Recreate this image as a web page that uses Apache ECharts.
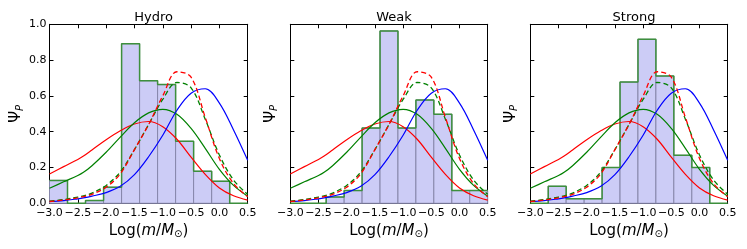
<!DOCTYPE html>
<html>
<head>
<meta charset="utf-8">
<script src="https://cdn.jsdelivr.net/npm/echarts@6/dist/echarts.min.js"></script>
<style>html,body{margin:0;padding:0;background:#fff}#c{width:747px;height:249px}</style>
</head>
<body>
<div id="c"></div>
<script>
// ---------- data ----------
const panelTitles = ['Hydro', 'Weak', 'Strong'];
const binEdges = [-3.0, -2.682, -2.364, -2.045, -1.727, -1.409, -1.091, -0.773, -0.455, -0.136, 0.182, 0.5];
const histHydro  = [0.128, 0.0, 0.015, 0.09, 0.892, 0.685, 0.663, 0.346, 0.179, 0.123, 0.0];
const histWeak   = [0.0, 0.0, 0.035, 0.071, 0.42, 0.963, 0.42, 0.577, 0.497, 0.071, 0.071];
const histStrong = [0.0, 0.095, 0.025, 0.025, 0.2, 0.677, 0.916, 0.711, 0.268, 0.2, 0.0];

const curveX = [-3.0, -2.75, -2.5, -2.4, -2.25, -2.0, -1.75, -1.5, -1.25, -1.0, -0.75, -0.5, -0.25, 0.0, 0.25, 0.5];
const redSolid   = [0.164, 0.205, 0.245, 0.264, 0.298, 0.355, 0.405, 0.443, 0.457, 0.428, 0.358, 0.258, 0.162, 0.086, 0.042, 0.018];
const greenSolid = [0.084, 0.12, 0.155, 0.173, 0.21, 0.285, 0.37, 0.45, 0.505, 0.525, 0.497, 0.418, 0.307, 0.19, 0.1, 0.04];
const blueSolid  = [0.01, 0.015, 0.025, 0.03, 0.04, 0.06, 0.095, 0.16, 0.26, 0.38, 0.52, 0.615, 0.64, 0.56, 0.41, 0.24];
const redDashed  = [0.01, 0.018, 0.03, 0.037, 0.05, 0.09, 0.165, 0.3, 0.44, 0.6, 0.735, 0.705, 0.48, 0.25, 0.11, 0.037];
const greenDashed= [0.012, 0.021, 0.035, 0.042, 0.057, 0.1, 0.175, 0.3, 0.44, 0.58, 0.675, 0.645, 0.47, 0.27, 0.13, 0.05];

// ---------- styling ----------
const FONT = 'DejaVu Sans';
const grids = [
  {left: 49.5, top: 24.3, width: 198.2, height: 179},
  {left: 290.3, top: 24.3, width: 197.4, height: 179},
  {left: 530.3, top: 24.3, width: 197.4, height: 179}
];
const hists = [histHydro, histWeak, histStrong];
const fillColor = '#ccccf6';
const edgeColor = '#8686aa';
const stepColor = '#3d8f3d';

const fmtMinus = v => (Math.abs(v) < 1e-9 ? '0.0' : v.toFixed(1)).replace('-', '\u2212');

const option = {
  animation: false,
  backgroundColor: '#ffffff',
  title: [], grid: [], xAxis: [], yAxis: [], series: []
};

grids.forEach((g, i) => {
  option.grid.push({left: g.left, top: g.top, width: g.width, height: g.height, containLabel: false});
  option.title.push({
    text: panelTitles[i], left: g.left + g.width / 2, top: 6, textAlign: 'center',
    textStyle: {fontFamily: FONT, fontSize: 13, fontWeight: 'normal', color: '#000'}
  });
  const axLine = {show: true, onZero: false, lineStyle: {color: '#000', width: 1}};
  const tick = {show: true, inside: true, length: 4, lineStyle: {color: '#000', width: 1}};
  option.xAxis.push({
    gridIndex: i, type: 'value', min: -3, max: 0.5, interval: 0.5, position: 'bottom',
    axisLine: axLine, axisTick: tick, splitLine: {show: false},
    axisLabel: {show: true, margin: 4, fontFamily: FONT, fontSize: 11, color: '#000', formatter: fmtMinus},
    name: '{n|Log(}{i|m}{n|/}{i|M}{s|\u2299}{n|)}', nameLocation: 'middle', nameGap: 16,
    nameTextStyle: {rich: {
      n: {fontFamily: FONT, fontSize: 15, color: '#000'},
      i: {fontFamily: FONT, fontSize: 15, fontStyle: 'italic', color: '#000'},
      s: {fontFamily: FONT, fontSize: 10, color: '#000', verticalAlign: 'bottom', padding: [8, 0, 0, 0]}
    }}
  });
  option.xAxis.push({
    gridIndex: i, type: 'value', min: -3, max: 0.5, interval: 0.5, position: 'top',
    axisLine: axLine, axisTick: tick, axisLabel: {show: false}, splitLine: {show: false}
  });
  option.yAxis.push({
    gridIndex: i, type: 'value', min: 0, max: 1, interval: 0.2, position: 'left',
    axisLine: axLine, axisTick: tick, splitLine: {show: false},
    axisLabel: {show: i === 0, margin: 3, fontFamily: FONT, fontSize: 11, color: '#000', formatter: v => v.toFixed(1)},
    name: '{p|\u03A8}{s|P}', nameLocation: 'middle', nameRotate: 90, nameGap: i === 0 ? 17 : 11,
    nameTextStyle: {rich: {
      p: {fontFamily: FONT, fontSize: 15, color: '#000'},
      s: {fontFamily: FONT, fontSize: 10, fontStyle: 'italic', color: '#000', verticalAlign: 'bottom', padding: [7, 0, 0, 0]}
    }}
  });
  option.yAxis.push({
    gridIndex: i, type: 'value', min: 0, max: 1, interval: 0.2, position: 'right',
    axisLine: axLine, axisTick: tick, axisLabel: {show: false}, splitLine: {show: false}
  });

  const xi = i * 2, yi = i * 2;
  const h = hists[i];
  const binData = h.map((v, k) => [binEdges[k], binEdges[k + 1], v]);
  option.series.push({
    type: 'custom', xAxisIndex: xi, yAxisIndex: yi, z: 1,
    data: binData, encode: {x: [0, 1], y: 2},
    renderItem: (params, api) => {
      const hv = api.value(2);
      if (hv <= 0) return null;
      const p0 = api.coord([api.value(0), hv]);
      const p1 = api.coord([api.value(1), 0]);
      return {type: 'rect', shape: {x: p0[0], y: p0[1], width: p1[0] - p0[0], height: p1[1] - p0[1]},
        style: {fill: fillColor, stroke: edgeColor, lineWidth: 1}};
    }
  });
  const stepData = h.map((v, k) => [binEdges[k], v]);
  stepData.push([binEdges[binEdges.length - 1], h[h.length - 1]]);
  option.series.push({
    type: 'line', xAxisIndex: xi, yAxisIndex: yi, z: 2, step: 'end', data: stepData,
    symbol: 'none', lineStyle: {color: stepColor, width: 1.5}
  });
  const curves = [
    [redSolid, '#ff0000', 'solid', 1.2],
    [greenSolid, '#008000', 'solid', 1.2],
    [blueSolid, '#0000ff', 'solid', 1.2],
    [greenDashed, '#008000', [5, 3], 1.3],
    [redDashed, '#ff0000', [5, 3], 1.3]
  ];
  curves.forEach(([ys, col, t, w]) => {
    option.series.push({
      type: 'line', xAxisIndex: xi, yAxisIndex: yi, z: 3, smooth: 0.35,
      data: curveX.map((x, k) => [x, ys[k]]), symbol: 'none',
      lineStyle: {color: col, width: w, type: t}
    });
  });
});

const chart = echarts.init(document.getElementById('c'), null, {renderer: 'canvas'});
chart.setOption(option);
</script>
</body>
</html>
